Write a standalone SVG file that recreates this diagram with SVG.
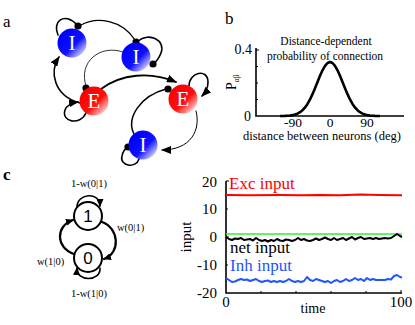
<svg xmlns="http://www.w3.org/2000/svg" width="415" height="325" viewBox="0 0 415 325">
<defs>
  <linearGradient id="gBlue" x1="0.2" y1="0.2" x2="0.95" y2="0.95">
    <stop offset="0" stop-color="#0000ff"/>
    <stop offset="0.5" stop-color="#1010ff"/>
    <stop offset="1" stop-color="#ffffff"/>
  </linearGradient>
  <linearGradient id="gRed" x1="0.2" y1="0.2" x2="0.95" y2="0.95">
    <stop offset="0" stop-color="#ff0000"/>
    <stop offset="0.5" stop-color="#ff1010"/>
    <stop offset="1" stop-color="#ffffff"/>
  </linearGradient>
  <marker id="arrA" markerUnits="userSpaceOnUse" markerWidth="10" markerHeight="8" refX="9" refY="4" orient="auto">
    <path d="M0,0 L10,4 L0,8 z" fill="#000"/>
  </marker>
  <marker id="arrC" markerUnits="userSpaceOnUse" markerWidth="8" markerHeight="7" refX="7" refY="3.5" orient="auto">
    <path d="M0,0 L8,3.5 L0,7 z" fill="#000"/>
  </marker>
</defs>
<style>
  text{font-family:'Liberation Serif','Times New Roman',serif}
  .lbl{fill:#000}
  .panel{font-size:17px}
  .nodeTxt{font-size:21px;fill:#fff;text-anchor:middle}
  .con{fill:none;stroke:#000;stroke-linecap:round}
  .dot{fill:#000}
  .axis{fill:none;stroke:#000;stroke-width:1.6}
  .tick{fill:none;stroke:#000;stroke-width:1}
  .st{fill:#fff;stroke:#000;stroke-width:2}
  text.stTxt{font-family:'Liberation Sans',Arial,sans-serif;font-size:17px;text-anchor:middle;fill:#000}
  .sm{font-size:10.5px;fill:#000}
</style>

<!-- Panel labels -->
<text class="lbl panel" x="3" y="27">a</text>
<text class="lbl panel" x="225" y="24">b</text>
<text class="lbl panel" x="3" y="180" font-weight="bold">c</text>

<!-- Panel a connectors -->
<g id="a-connectors">
  <path class="con" stroke-width="1.6" d="M58,35 C52,22 64,11 77,25"/>
  <circle class="dot" cx="78" cy="26" r="3.6"/>
  <path class="con" stroke-width="1.3" d="M81,25 C97,16 122,20 135,40"/>
  <circle class="dot" cx="136" cy="42" r="3.6"/>
  <path class="con" stroke-width="1.6" d="M138,41 C149,32 166,40 161,53 C159,58 157,61 154,63"/>
  <circle class="dot" cx="153" cy="64" r="3.6"/>
  <path class="con" stroke-width="0.8" d="M123,52 C100,44 78,62 86,86"/>
  <circle class="dot" cx="86" cy="88" r="3.6"/>
  <path class="con" stroke-width="1.6" d="M80,103 C54,96 49,72 59,57" marker-end="url(#arrA)"/>
  <path class="con" stroke-width="1.6" d="M86,113 C80,126 61,122 65,110 C67,105 71,103 78,102" marker-end="url(#arrA)"/>
  <path class="con" stroke-width="1.8" d="M101,89 C121,74 150,71 176,82" marker-end="url(#arrA)"/>
  <path class="con" stroke-width="1.6" d="M189,86 C189,72 208,68 208,82 C208,89 205,93 202,96" marker-end="url(#arrA)"/>
  <path class="con" stroke-width="1.5" d="M134,134 C126,118 140,96 166,89"/>
  <circle class="dot" cx="168" cy="89" r="3.6"/>
  <path class="con" stroke-width="1" d="M196,111 C201,130 191,150 162,150" marker-end="url(#arrA)"/>
  <path class="con" stroke-width="1.6" d="M139,159 C136,169 119,166 122,156 C123,151 125,149 127,148"/>
  <circle class="dot" cx="128" cy="147" r="3.6"/>
</g>

<!-- Panel a nodes -->
<g id="node-I1">
  <circle cx="72" cy="43" r="14.5" fill="url(#gBlue)"/>
  <text class="nodeTxt" x="72" y="50">I</text>
</g>
<g id="node-I2">
  <circle cx="136" cy="57" r="14.5" fill="url(#gBlue)"/>
  <text class="nodeTxt" x="136" y="64">I</text>
</g>
<g id="node-E1">
  <circle cx="94" cy="101" r="14.5" fill="url(#gRed)"/>
  <text class="nodeTxt" x="94" y="108">E</text>
</g>
<g id="node-E2">
  <circle cx="183" cy="99" r="14.5" fill="url(#gRed)"/>
  <text class="nodeTxt" x="183" y="106">E</text>
</g>
<g id="node-I3">
  <circle cx="143" cy="145" r="14.5" fill="url(#gBlue)"/>
  <text class="nodeTxt" x="143" y="152">I</text>
</g>

<!-- Panel b plot -->
<g id="plot-b">
  <text class="lbl" font-size="11.5" x="326" y="45" text-anchor="middle">Distance-dependent</text>
  <text class="lbl" font-size="11.5" x="325" y="60" text-anchor="middle">probability of connection</text>
  <path class="axis" d="M256,48 L256,116 L404,116"/>
  <path class="tick" d="M256,50 h3 M256,66.5 h2 M256,83 h2 M256,99.5 h2"/>
  <text class="lbl" font-size="14" x="252" y="54" text-anchor="end">0.4</text>
  <text class="lbl" font-size="14" x="251" y="121" text-anchor="end">0</text>
  <text class="lbl" font-size="13.5" x="293" y="126.5" text-anchor="middle">-90</text>
  <text class="lbl" font-size="13.5" x="330" y="126.5" text-anchor="middle">0</text>
  <text class="lbl" font-size="13.5" x="367" y="126.5" text-anchor="middle">90</text>
  <text class="lbl" font-size="12.5" x="322" y="140" text-anchor="middle">distance between neurons (deg)</text>
  <text class="lbl" font-size="14" transform="translate(236,90) rotate(-90)">P<tspan font-size="7.5" dy="3">αβ</tspan></text>
  <polyline fill="none" stroke="#000" stroke-width="2.6" stroke-linejoin="round" points="280,116 285,115.87 287.5,115.74 290,115.53 292.5,115.16 295,114.56 297.5,113.63 300,112.23 302.5,110.24 305,107.5 307.5,103.93 310,99.45 312.5,94.18 315,88.24 317.5,81.99 320,75.83 322.5,70.28 325,65.85 327.5,62.99 330,62 332.5,62.99 335,65.85 337.5,70.28 340,75.83 342.5,81.99 345,88.24 347.5,94.18 350,99.45 352.5,103.93 355,107.5 357.5,110.24 360,112.23 362.5,113.63 365,114.56 367.5,115.16 370,115.53 372.5,115.74 375,115.87 380,116"/>
</g>

<!-- Panel c state diagram connectors -->
<g id="c-connectors">
  <path class="con" stroke-width="1.6" d="M77,208 C76,193 100,191 100,206" marker-end="url(#arrC)"/>
  <path class="con" stroke-width="2.2" d="M102,222 C119,228 121,253 104,259" marker-end="url(#arrC)"/>
  <path class="con" stroke-width="2.2" d="M74,254 C56,248 55,226 73,220" marker-end="url(#arrC)"/>
  <path class="con" stroke-width="1.6" d="M100,268 C101,282 76,282 77,268" marker-end="url(#arrC)"/>
  <text class="sm" x="89" y="187" text-anchor="middle">1-w(0|1)</text>
  <text class="sm" x="117" y="231">w(0|1)</text>
  <text class="sm" x="37" y="265">w(1|0)</text>
  <text class="sm" x="89" y="297" text-anchor="middle">1-w(1|0)</text>
</g>
<g id="state-1">
  <circle class="st" cx="88" cy="216" r="14"/>
  <text class="stTxt" x="88" y="222">1</text>
</g>
<g id="state-0">
  <circle class="st" cx="88" cy="258" r="14"/>
  <text class="stTxt" x="88" y="264">0</text>
</g>

<!-- Panel c plot -->
<g id="plot-c">
  <path class="axis" d="M226,181 L226,293 L402,293"/>
  <path class="tick" d="M226,181 h3 M226,209 h2 M226,237 h3 M226,265 h2 M261,293 v-2 M296,293 v-2 M331,293 v-2 M366,293 v-2 M401,293 v-3"/>
  <text class="lbl" font-size="15" x="217" y="187" text-anchor="end">20</text>
  <text class="lbl" font-size="15" x="217" y="214" text-anchor="end">10</text>
  <text class="lbl" font-size="15" x="217" y="242" text-anchor="end">0</text>
  <text class="lbl" font-size="15" x="217" y="270" text-anchor="end">-10</text>
  <text class="lbl" font-size="15" x="217" y="298" text-anchor="end">-20</text>
  <text class="lbl" font-size="15" x="226" y="307" text-anchor="middle">0</text>
  <text class="lbl" font-size="15" x="401" y="307" text-anchor="middle">100</text>
  <text class="lbl" font-size="14" x="313" y="313" text-anchor="middle">time</text>
  <text class="lbl" font-size="15" transform="translate(191,237) rotate(-90)" text-anchor="middle">input</text>
  <polyline fill="none" stroke="#ff0000" stroke-width="2" points="226,195 250,195.3 280,195 300,195.2 320,194.9 340,195.2 360,194.6 380,195 402,195.2"/>
  <line x1="226" y1="234" x2="402" y2="234" stroke="#33ee33" stroke-width="1.6"/>
  <polyline fill="none" stroke="#000" stroke-width="2" stroke-linejoin="round" points="226,237 229,239 232,240 235,238.5 238,239 241,238 244,240 247,239.5 250,239 253,240.5 256,238 259,240 262,241 265,240 268,241.5 271,240 274,241 277,239 280,240.5 283,241 286,239.5 289,240 292,241 295,240 298,238 301,240 304,239 307,240.5 310,241 313,240 316,238.5 319,240 322,239 325,237.5 328,239 331,240 334,238 337,240 340,239 343,238 346,240 349,238.5 352,237 355,239.5 358,238 361,237 364,239 367,238.5 370,238 373,239 376,238 379,239 382,238.5 385,238 388,238.5 391,238 394,236 397,234 400,236 402,237"/>
  <polyline fill="none" stroke="#2255ff" stroke-width="2" stroke-linejoin="round" points="226,278 229,280 232,282 235,281.5 238,280 241,279 244,280 247,279.5 250,281 253,280 256,279 259,281 262,282 265,281 268,280.5 271,282 274,281 277,282 280,281 283,282 286,281 289,279 292,281 295,282 298,281 301,282 304,281 307,277 310,280 313,281 316,279 319,280 322,281 325,282 328,281 331,283 334,281 337,280 340,282 343,281 346,279 349,281 352,280 355,278 358,280 361,279 364,281 367,278 370,280 373,279 376,280 379,280 382,280 385,280 388,279 391,279.5 394,276 397,275 400,277 402,277.5"/>
  <text class="lbl" font-size="17" fill="#ff0000" style="fill:#ff0000" x="229" y="189">Exc input</text>
  <text class="lbl" font-size="17" x="230" y="253">net input</text>
  <text class="lbl" font-size="17" style="fill:#2255ff" x="230" y="271">Inh input</text>
</g>
</svg>
